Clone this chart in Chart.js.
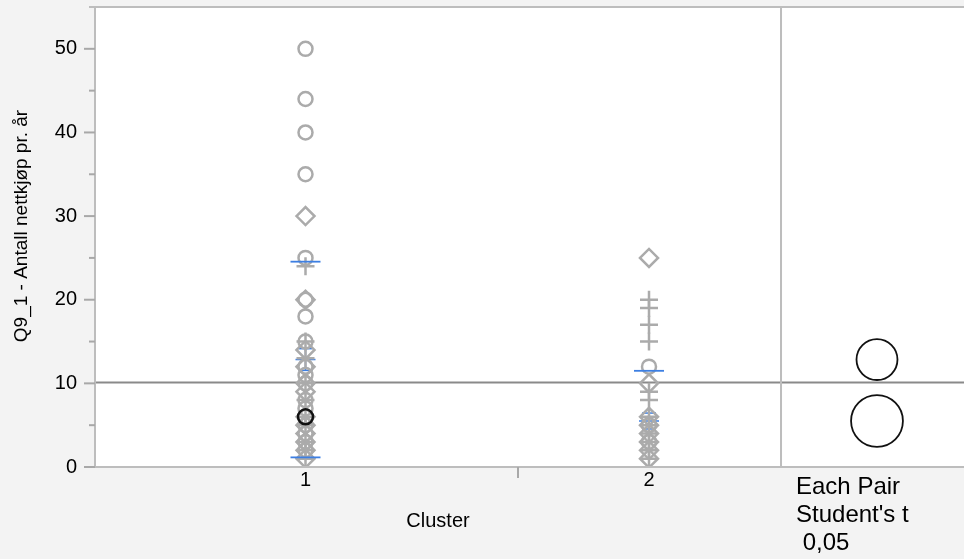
<!DOCTYPE html>
<html><head><meta charset="utf-8">
<script src="https://cdn.jsdelivr.net/npm/chart.js@4.4.0/dist/chart.umd.min.js"></script>
<style>html,body{margin:0;padding:0;background:#f3f3f3;} canvas{display:block;}</style>
</head><body>
<canvas id="c" width="964" height="559"></canvas>
<script>
// ---- data ----
const clusters = ['1', '2'];
const clusterPos = [1, 2];
const circleValues = [[50, 44, 40, 35, 25, 20, 18, 15, 12, 11, 10, 8, 7, 5, 4, 3, 2], [12, 5, 3]];
const diamondValues = [[30, 20, 14, 12, 10, 9, 6, 5, 4, 3, 2, 1], [25, 10, 6, 5, 4, 3, 2, 1]];
const plusValues = [[24, 15, 13, 10, 8, 6, 5, 3, 2, 1], [20, 19, 17, 15, 9, 8, 6, 5, 4, 3, 2, 1]];
const highlightValues = [[6], []];
const means = [12.85, 5.5];
const stdDevs = [11.7, 6.0];
const stdErrs = [1.3, 0.95];
const compRadius = [2.45, 3.1];
const grandMean = 10.1;
const yTickValues = [0, 10, 20, 30, 40, 50];
const yMinorTicks = [5, 15, 25, 35, 45];
const yTitle = 'Q9_1 - Antall nettkjøp pr. år';
const xTitle = 'Cluster';
const compLabel = ['Each Pair', "Student's t", ' 0,05'];

// axis layout (data units)
const xMin = 0.3872, xMax = 2.917;
const xBoundary = 1.6186, xDivider = 2.3843, xCompCircle = 2.6637;
const yMin = 0, yMax = 55;

const FONT = "'Liberation Sans', Arial, Helvetica, sans-serif";
const GREY = '#ababab';
const BLUE = '#3d7fe2';

function pts(arr) {
  return arr.flatMap((vals, i) => vals.map(v => ({ x: clusterPos[i], y: v })));
}

const jmp = {
  id: 'jmp',
  beforeDraw(chart) {
    const { ctx, chartArea: a } = chart;
    ctx.save();
    ctx.fillStyle = '#f3f3f3';
    ctx.fillRect(0, 0, chart.width, chart.height);
    ctx.fillStyle = '#ffffff';
    ctx.fillRect(a.left, a.top, a.right - a.left, a.bottom - a.top);
    ctx.restore();
  },
  beforeDatasetsDraw(chart) {
    const { ctx, chartArea: a, scales: { x, y } } = chart;
    const line = (x1, y1, x2, y2) => { ctx.beginPath(); ctx.moveTo(x1, y1); ctx.lineTo(x2, y2); ctx.stroke(); };
    ctx.save();
    ctx.strokeStyle = '#8a8a8a'; ctx.lineWidth = 2;
    const gy = y.getPixelForValue(grandMean);
    line(a.left, gy, a.right, gy);
    ctx.strokeStyle = BLUE; ctx.lineWidth = 1.5;
    means.forEach((m, i) => {
      const cx = x.getPixelForValue(clusterPos[i]);
      const t = y.getPixelForValue(m + stdErrs[i]), b = y.getPixelForValue(m - stdErrs[i]), my = y.getPixelForValue(m);
      line(cx - 10, my, cx + 10, my);
      line(cx, t, cx, b);
      line(cx - 7, t, cx + 7, t);
      line(cx - 7, b, cx + 7, b);
    });
    ctx.restore();
  },
  afterDatasetsDraw(chart) {
    const { ctx, chartArea: a, scales: { x, y } } = chart;
    const line = (x1, y1, x2, y2) => { ctx.beginPath(); ctx.moveTo(x1, y1); ctx.lineTo(x2, y2); ctx.stroke(); };
    ctx.save();
    // std dev lines
    ctx.strokeStyle = BLUE; ctx.lineWidth = 1.8;
    means.forEach((m, i) => {
      const cx = x.getPixelForValue(clusterPos[i]);
      [m + stdDevs[i], m - stdDevs[i]].forEach(v => {
        if (v < yMin) return;
        const py = y.getPixelForValue(v);
        line(cx - 15, py, cx + 15, py);
      });
    });
    // frame
    ctx.strokeStyle = '#bdbdbd'; ctx.lineWidth = 2;
    line(a.left - 6, a.top, a.right, a.top);
    line(a.left, a.top, a.left, a.bottom);
    line(a.left, a.bottom, a.right, a.bottom);
    const dx = x.getPixelForValue(xDivider);
    line(dx, a.top, dx, a.bottom);
    // boundary tick between clusters
    ctx.strokeStyle = '#a8a8a8';
    const bx = x.getPixelForValue(xBoundary);
    line(bx, a.bottom, bx, a.bottom + 11);
    // y ticks
    yTickValues.forEach(v => { const py = y.getPixelForValue(v); line(a.left - 11, py, a.left, py); });
    yMinorTicks.forEach(v => { const py = y.getPixelForValue(v); line(a.left - 6, py, a.left, py); });
    // comparison circles
    ctx.strokeStyle = '#111'; ctx.lineWidth = 1.8;
    const ccx = x.getPixelForValue(xCompCircle);
    means.forEach((m, i) => {
      const cy = y.getPixelForValue(m);
      const r = Math.abs(y.getPixelForValue(m + compRadius[i]) - cy);
      ctx.beginPath(); ctx.arc(ccx, cy, r, 0, Math.PI * 2); ctx.stroke();
    });
    // texts
    ctx.fillStyle = '#000';
    ctx.textBaseline = 'middle';
    ctx.font = '19px ' + FONT;
    ctx.save();
    ctx.translate(22, 226);
    ctx.rotate(-Math.PI / 2);
    ctx.textAlign = 'center';
    ctx.fillText(yTitle, 0, 0);
    ctx.restore();
    ctx.font = '20px ' + FONT;
    ctx.textAlign = 'center';
    ctx.fillText(xTitle, (a.left + dx) / 2, 521);
    ctx.font = '24px ' + FONT;
    ctx.textAlign = 'left';
    compLabel.forEach((t, i) => ctx.fillText(t, dx + 15, 487 + i * 28));
    ctx.restore();
  }
};

new Chart(document.getElementById('c'), {
  type: 'scatter',
  data: {
    datasets: [
      { data: pts(highlightValues), pointStyle: 'circle', pointRadius: 7.5, borderColor: '#111', borderWidth: 2.5, backgroundColor: 'transparent' },
      { data: pts(circleValues), pointStyle: 'circle', pointRadius: 7, borderColor: GREY, borderWidth: 2.5, backgroundColor: 'transparent' },
      { data: pts(diamondValues), pointStyle: 'rectRot', pointRadius: 9, borderColor: GREY, borderWidth: 2.5, backgroundColor: 'transparent' },
      { data: pts(plusValues), pointStyle: 'cross', pointRadius: 9, borderColor: GREY, borderWidth: 2.5, backgroundColor: 'transparent' }
    ]
  },
  options: {
    responsive: false, animation: false, devicePixelRatio: 1,
    layout: { autoPadding: false, padding: { top: 7, left: 0, right: 0, bottom: 0 } },
    plugins: { legend: { display: false }, tooltip: { enabled: false } },
    elements: { point: { hoverRadius: 7 } },
    scales: {
      x: {
        type: 'linear', min: xMin, max: xMax,
        grid: { display: false, drawTicks: false }, border: { display: false },
        afterBuildTicks: s => { s.ticks = clusterPos.map(v => ({ value: v })); },
        ticks: { callback: v => { const k = clusterPos.indexOf(v); return k >= 0 ? clusters[k] : ''; },
                 font: { family: FONT, size: 20 }, color: '#000', padding: 1, maxRotation: 0, autoSkip: false },
        afterFit: s => { s.height = 92; s.paddingLeft = 0; s.paddingRight = 0; s.paddingTop = 0; s.paddingBottom = 0; }
      },
      y: {
        type: 'linear', min: yMin, max: yMax,
        grid: { display: false, drawTicks: false }, border: { display: false },
        afterBuildTicks: s => { s.ticks = yTickValues.map(v => ({ value: v })); },
        ticks: { font: { family: FONT, size: 20 }, color: '#000', padding: 18, autoSkip: false },
        afterFit: s => { s.width = 95; s.paddingTop = 0; s.paddingBottom = 0; s.paddingLeft = 0; s.paddingRight = 0; }
      }
    }
  },
  plugins: [jmp]
});
</script>
</body></html>
